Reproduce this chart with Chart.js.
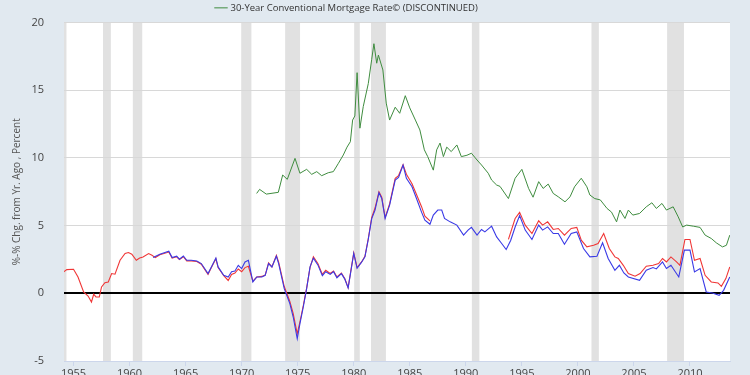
<!DOCTYPE html>
<html><head><meta charset="utf-8">
<script src="https://cdn.jsdelivr.net/npm/chart.js@4.4.0/dist/chart.umd.min.js"></script>
<style>
html,body{margin:0;padding:0;overflow:hidden;background:#e1e9f0;}
#wrap{position:relative;width:750px;height:375px;overflow:hidden;}
#c{position:absolute;left:0;top:-4px;}
</style></head><body>
<div id="wrap"><canvas id="c" width="750" height="394"></canvas></div>
<script>
// ---- data ----
const tickYears = [1955,1960,1965,1970,1975,1980,1985,1990,1995,2000,2005,2010];
const yTicks = [-5,0,5,10,15,20];
const xRange = [1954.15, 2013.57];

const recessions = [[1953.5,1954.37],[1957.63,1958.33],[1960.29,1961.13],[1969.96,1970.87],[1973.88,1975.21],[1980.04,1980.54],[1981.54,1982.87],[1990.54,1991.21],[2001.21,2001.87],[2007.96,2009.46]];

const redYears = [1954.1,1954.4,1955.0,1955.4,1955.9,1956.3,1956.6,1956.8,1957.0,1957.3,1957.5,1957.8,1958.1,1958.4,1958.7,1959.15,1959.6,1959.9,1960.2,1960.6,1960.9,1961.2,1961.7,1962.0,1962.3,1962.7,1963.5,1963.8,1964.2,1964.45,1964.8,1965.1,1965.5,1966.0,1966.4,1967.0,1967.3,1967.7,1967.9,1968.4,1968.8,1969.1,1969.4,1969.7,1970.0,1970.3,1970.6,1971.0,1971.35,1971.8,1972.1,1972.4,1972.7,1973.1,1973.3,1973.8,1974.3,1974.6,1974.96,1975.2,1975.5,1975.8,1976.1,1976.4,1976.8,1977.2,1977.5,1977.9,1978.2,1978.5,1978.9,1979.2,1979.5,1979.7,1980.0,1980.3,1980.7,1981.0,1981.3,1981.6,1981.9,1982.25,1982.5,1982.8,1983.2,1983.7,1984.0,1984.4,1984.7,1985.2,1985.6,1986.05,1986.35,1986.8,1990.0,1993.8,1994.4,1994.8,1995.3,1995.9,1996.5,1996.85,1997.3,1997.8,1998.25,1998.8,1999.4,1999.9,2000.3,2000.8,2001.4,2001.8,2002.3,2002.8,2003.3,2003.6,2004.05,2004.5,2005.1,2005.55,2006.1,2006.7,2007.2,2007.55,2007.9,2008.3,2008.8,2009.1,2009.55,2010.0,2010.4,2010.9,2011.35,2011.9,2012.5,2012.8,2013.2,2013.55];
const redValues = [1.58,1.75,1.78,1.21,0.1,-0.2,-0.64,-0.07,-0.27,-0.27,0.47,0.79,0.84,1.46,1.41,2.44,2.94,3.01,2.89,2.44,2.61,2.69,2.94,2.81,2.64,2.85,3.05,2.6,2.7,2.5,2.7,2.4,2.4,2.35,2.15,1.4,1.9,2.55,1.9,1.3,0.95,1.4,1.5,1.8,1.6,1.9,2.0,0.9,1.2,1.25,1.35,2.25,1.95,2.8,2.3,0.5,-0.6,-1.5,-3.0,-2.1,-0.9,0.4,1.9,2.7,2.2,1.4,1.7,1.46,1.65,1.21,1.5,1.09,0.42,1.46,2.99,1.9,2.32,2.74,4.05,5.6,6.3,7.5,7.1,5.6,6.6,8.5,8.7,9.5,8.8,8.1,7.3,6.4,5.7,5.35,null,3.98,5.53,5.98,5.04,4.42,5.36,5.04,5.28,4.72,4.79,4.3,4.79,4.87,3.93,3.43,3.55,3.68,4.42,3.31,2.69,2.57,2.07,1.46,1.26,1.46,2.0,2.07,2.2,2.57,2.32,2.69,2.32,2.07,3.98,3.98,2.44,2.57,1.33,0.84,0.77,0.52,1.09,1.95];

const blueYears = [1962.1,1962.7,1963.5,1963.8,1964.2,1964.45,1964.8,1965.1,1965.5,1966.0,1966.4,1967.0,1967.3,1967.7,1967.9,1968.4,1968.8,1969.1,1969.4,1969.7,1970.0,1970.3,1970.6,1971.0,1971.35,1971.8,1972.1,1972.4,1972.7,1973.1,1973.3,1973.8,1974.3,1974.6,1974.96,1975.2,1975.5,1975.8,1976.1,1976.4,1976.8,1977.2,1977.5,1977.9,1978.2,1978.5,1978.9,1979.2,1979.5,1979.7,1980.0,1980.3,1980.7,1981.0,1981.3,1981.6,1981.9,1982.25,1982.5,1982.8,1983.2,1983.7,1984.0,1984.4,1984.7,1985.2,1985.6,1986.05,1986.35,1986.8,1987.1,1987.5,1987.85,1988.1,1988.6,1989.2,1989.8,1990.2,1990.5,1991.0,1991.4,1991.7,1992.3,1992.75,1993.2,1993.6,1994.0,1994.4,1994.8,1995.3,1995.9,1996.5,1996.85,1997.3,1997.8,1998.25,1998.8,1999.4,1999.9,2000.5,2001.07,2001.7,2002.2,2002.7,2003.3,2003.7,2004.1,2004.5,2005.5,2006.1,2006.7,2007.0,2007.55,2007.9,2008.3,2009.0,2009.5,2010.0,2010.4,2010.9,2011.45,2012.0,2012.6,2013.0,2013.55];
const blueValues = [2.64,2.89,3.11,2.64,2.74,2.52,2.76,2.44,2.44,2.39,2.2,1.46,1.95,2.61,1.95,1.33,1.2,1.6,1.65,2.07,1.83,2.32,2.44,0.84,1.21,1.21,1.33,2.2,1.95,2.74,2.2,0.35,-0.76,-1.75,-3.36,-2.25,-1.0,0.35,1.95,2.6,2.1,1.3,1.6,1.4,1.6,1.15,1.45,1.05,0.4,1.4,2.95,1.85,2.3,2.7,4.0,5.5,6.15,7.43,7.01,5.53,6.52,8.37,8.57,9.48,8.5,7.87,7.01,6.0,5.4,5.1,5.78,6.15,6.15,5.53,5.28,5.04,4.3,4.67,4.87,4.3,4.72,4.54,4.96,4.17,3.68,3.24,3.9,4.9,5.75,4.67,3.98,5.04,4.67,4.91,4.42,4.42,3.63,4.42,4.54,3.31,2.69,2.74,3.73,2.57,1.7,2.07,1.5,1.21,0.96,1.7,1.9,1.8,2.32,1.83,2.07,1.21,3.19,3.19,1.58,1.83,0.1,0.02,-0.15,0.22,1.21];

const greenYears = [1971.34,1971.6,1972.2,1973.27,1973.66,1974.07,1974.76,1975.2,1975.8,1976.25,1976.7,1977.14,1977.73,1978.18,1978.63,1979.07,1979.4,1979.7,1979.9,1980.1,1980.3,1980.55,1980.85,1981.3,1981.6,1981.8,1982.05,1982.2,1982.6,1982.9,1983.2,1983.7,1984.1,1984.6,1985.0,1985.5,1985.9,1986.3,1986.6,1987.1,1987.4,1987.7,1988.0,1988.3,1988.7,1989.2,1989.6,1990.1,1990.5,1991.0,1991.4,1992.0,1992.3,1992.75,1993.05,1993.8,1994.4,1995.0,1995.6,1996.0,1996.5,1996.9,1997.35,1997.8,1998.25,1998.85,1999.3,1999.7,2000.3,2000.8,2001.07,2001.5,2002.0,2002.6,2003.0,2003.45,2003.75,2004.2,2004.5,2004.9,2005.5,2006.1,2006.6,2007.0,2007.5,2007.9,2008.5,2008.95,2009.35,2009.7,2010.3,2010.9,2011.35,2011.9,2012.35,2012.9,2013.25,2013.55];
const greenValues = [7.38,7.68,7.33,7.46,8.74,8.42,9.97,8.87,9.16,8.79,8.99,8.69,8.91,8.99,9.6,10.22,10.8,11.2,12.8,13.1,16.3,12.2,13.8,15.5,17.26,18.44,17.0,17.6,16.5,14.05,12.8,13.75,13.3,14.6,13.7,12.8,12.07,10.6,10.1,9.1,10.6,11.1,10.1,10.8,10.47,10.96,10.1,10.2,10.35,9.85,9.48,8.87,8.37,8.0,7.9,7.0,8.5,9.16,7.75,7.1,8.25,7.75,8.07,7.38,7.13,6.76,7.13,7.87,8.5,7.87,7.26,7.0,6.9,6.27,6.0,5.28,6.15,5.53,6.15,5.78,5.9,6.39,6.69,6.27,6.64,6.15,6.39,5.65,4.9,5.04,4.96,4.87,4.3,4.05,3.73,3.43,3.55,4.3];

const greenLabel = '30-Year Conventional Mortgage Rate© (DISCONTINUED)';

// ---- chart ----
const pts = (xs, ys) => xs.map((x, i) => ({x: x, y: ys[i]}));
const FONT = "'Open Sans', sans-serif";

const bgPlugin = {
  id: 'bg',
  beforeDraw(chart) {
    const {ctx, chartArea: a, scales: {x}} = chart;
    // nudge the legend slightly left, as in the reference
    if (chart.legend && !chart.legend._nudged) {
      chart.legend.left -= 18; chart.legend.right -= 18; chart.legend._nudged = true;
    }
    ctx.save();
    ctx.fillStyle = '#ffffff';
    ctx.fillRect(a.left, a.top, a.right - a.left, a.bottom - a.top);
    ctx.fillStyle = '#e1e1e1';
    recessions.forEach(([s, e]) => {
      const x0 = Math.max(a.left, x.getPixelForValue(s));
      const x1 = Math.min(a.right, x.getPixelForValue(e));
      if (x1 > x0) ctx.fillRect(x0, a.top, x1 - x0, a.bottom - a.top);
    });
    ctx.restore();
  }
};

new Chart(document.getElementById('c'), {
  type: 'line',
  data: {
    datasets: [
      {label: 'blue', data: pts(blueYears, blueValues), borderColor: '#3a3ae6', borderWidth: 1.1, pointRadius: 0, order: 0, tension: 0},
      {label: 'red', data: pts(redYears, redValues), borderColor: '#f03636', borderWidth: 1.1, pointRadius: 0, order: 1, tension: 0, spanGaps: false},
      {label: greenLabel, data: pts(greenYears, greenValues), borderColor: '#3f8c3f', backgroundColor: '#3f8c3f', borderWidth: 1, pointRadius: 0, order: 2, tension: 0}
    ]
  },
  options: {
    responsive: false,
    animation: false,
    layout: {padding: {left: 0, right: 20, top: 0, bottom: 0}},
    plugins: {
      tooltip: {enabled: false},
      legend: {
        display: true,
        position: 'top',
        labels: {
          filter: (item) => item.text === greenLabel,
          usePointStyle: true,
          pointStyle: 'line',
          boxWidth: 12,
          boxHeight: 10,
          color: '#333333',
          font: {family: FONT, size: 9.5},
          padding: 2
        }
      }
    },
    scales: {
      x: {
        type: 'linear',
        min: xRange[0],
        max: xRange[1],
        afterBuildTicks: (s) => { s.ticks = tickYears.map(v => ({value: v})); },
        afterFit: (s) => { s.height = 29; },
        ticks: {
          autoSkip: false, maxRotation: 0, padding: 1,
          color: '#444444', font: {family: FONT, size: 11},
          callback: (v) => String(v)
        },
        grid: {drawOnChartArea: false, color: '#ccd6eb', tickLength: 5},
        border: {color: '#ccd6eb'}
      },
      y: {
        min: -5, max: 20,
        afterBuildTicks: (s) => { s.ticks = yTicks.map(v => ({value: v})); },
        afterFit: (s) => { s.width = 64; },
        ticks: {padding: 20, color: '#444444', font: {family: FONT, size: 11}},
        grid: {
          drawTicks: false,
          color: (c) => c.tick && c.tick.value === 0 ? '#000000' : '#d8d8d8',
          lineWidth: (c) => c.tick && c.tick.value === 0 ? 2 : 1
        },
        border: {display: false},
        title: {display: true, text: '%-% Chg. from Yr. Ago , Percent', color: '#555555', font: {family: FONT, size: 10}, padding: {top: 11, bottom: 0}}
      }
    }
  },
  plugins: [bgPlugin]
});
</script>
</body></html>
